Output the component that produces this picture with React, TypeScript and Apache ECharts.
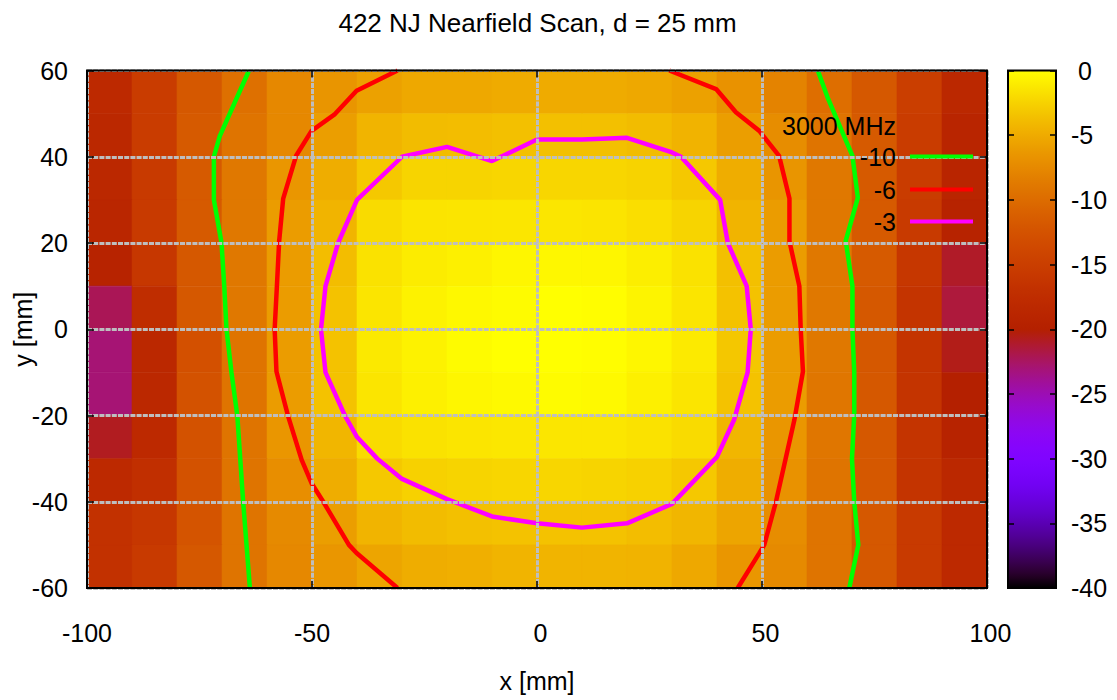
import React, { useEffect, useRef } from "react";
import * as echarts from "echarts";

const FONT = "'Liberation Sans', Arial, Helvetica, sans-serif";
const FS = 25;

const TITLE = "422 NJ Nearfield Scan, d = 25 mm";
const LEGEND_TITLE = "3000 MHz";
const X_NAME = "x [mm]";
const Y_NAME = "y [mm]";

// cell centres (mm)
const xCenters = [-95, -85, -75, -65, -55, -45, -35, -25, -15, -5, 5, 15, 25, 35, 45, 55, 65, 75, 85, 95];
const yCenters = [55, 45, 35, 25, 15, 5, -5, -15, -25, -35, -45, -55];

// level in dB, one row per yCenters entry, one column per xCenters entry
const levelRows = [
  [-18.1, -15.3, -11.9, -9.6, -7.6, -6.6, -5.7, -5.2, -5.2, -5.0, -5.0, -5.0, -5.2, -5.7, -6.8, -8.0, -9.8, -11.9, -15.0, -18.4],
  [-18.4, -15.3, -11.7, -9.3, -7.6, -5.9, -4.4, -3.9, -3.8, -3.6, -3.6, -3.6, -3.9, -4.5, -5.9, -7.2, -9.3, -11.7, -15.3, -19.0],
  [-18.4, -15.6, -11.7, -8.9, -6.5, -4.9, -3.1, -2.4, -2.4, -2.3, -2.3, -2.3, -2.5, -3.1, -4.9, -6.6, -8.9, -11.7, -15.3, -19.0],
  [-18.8, -15.6, -11.7, -8.9, -6.1, -4.4, -2.0, -1.5, -1.4, -1.35, -1.35, -1.45, -1.8, -2.4, -4.4, -6.1, -8.9, -11.7, -15.6, -19.4],
  [-19.4, -16.0, -11.9, -8.9, -6.1, -3.8, -1.6, -1.0, -0.8, -0.5, -0.4, -0.5, -0.9, -1.6, -3.6, -6.1, -8.9, -11.7, -16.0, -21.0],
  [-22.2, -17.5, -11.9, -8.9, -6.1, -3.5, -1.4, -0.7, -0.35, -0.2, 0, -0.1, -0.6, -1.4, -3.5, -6.1, -8.9, -11.9, -16.4, -21.5],
  [-23.0, -18.4, -12.8, -9.3, -6.1, -3.5, -1.2, -0.7, -0.2, 0, 0, -0.1, -0.5, -1.1, -3.2, -6.1, -8.9, -11.9, -16.4, -20.6],
  [-23.0, -18.4, -12.6, -9.3, -6.1, -3.5, -1.4, -0.8, -0.5, -0.3, -0.2, -0.3, -0.8, -1.4, -3.5, -6.1, -9.1, -11.9, -16.4, -20.0],
  [-20.8, -18.1, -12.6, -9.3, -6.5, -4.3, -2.0, -1.6, -1.4, -1.3, -1.35, -1.35, -1.6, -2.0, -4.3, -6.5, -9.1, -11.9, -16.4, -19.4],
  [-18.1, -17.1, -12.6, -9.3, -7.1, -4.9, -3.1, -2.6, -2.4, -2.3, -2.3, -2.4, -2.6, -3.1, -4.9, -6.8, -9.3, -11.9, -16.4, -18.4],
  [-16.8, -16.0, -12.3, -9.3, -7.4, -5.9, -4.4, -3.9, -3.6, -3.5, -3.5, -3.5, -3.8, -4.3, -5.4, -7.2, -9.3, -11.9, -15.6, -18.1],
  [-16.8, -15.6, -11.9, -9.3, -7.6, -6.5, -5.4, -4.9, -4.7, -4.4, -4.4, -4.4, -4.5, -5.2, -6.5, -7.4, -9.3, -11.9, -15.6, -18.1],
];

// contour lines [x mm, y mm]
const contour3 = [
  [0, 44], [-10, 39], [-20, 42.3], [-30, 40], [-40, 30], [-44.2, 20], [-47, 10], [-48, 0], [-47, -10],
  [-42.7, -20], [-40, -25], [-35.5, -30], [-30, -34.7], [-20, -39.4], [-10, -43.4], [0, -45], [10, -46],
  [20, -45], [30, -40.5], [40, -29.6], [43.8, -21], [46.8, -10], [47.5, 0], [46.6, 10], [42.4, 20],
  [40.7, 30], [32, 40], [30, 41], [20, 44.4], [10, 44], [0, 44],
];
const contour6Left = [
  [-31, 60], [-40.1, 55.3], [-44.9, 49.9], [-50.1, 46], [-53.5, 40.3], [-56.4, 30.3], [-57.3, 20.4],
  [-57.8, 10], [-58.3, 0], [-57.9, -9.8], [-55.3, -20.2], [-52.3, -30.3], [-50.1, -35.7], [-47.5, -40],
  [-41.8, -50], [-40.1, -51.9], [-31, -60],
];
const contour6Right = [
  [29.4, 60], [39.8, 55.7], [44.2, 50.3], [49.4, 46], [53.8, 40.2], [56.1, 30.3], [56.1, 20.4], [58.3, 10],
  [58.6, 0], [59.1, -9.8], [57.2, -21], [53.1, -40], [50.5, -50], [49.4, -51.9], [44.6, -60],
];
const contour10Left = [
  [-64, 60], [-70.5, 44.8], [-71.8, 40], [-71.8, 30], [-70.1, 20], [-69.5, 10], [-69, 0], [-67.9, -10],
  [-66.6, -20], [-65.3, -40], [-63.8, -60],
];
const contour10Right = [
  [62.4, 60], [64.7, 53.4], [70.1, 40.2], [71.3, 30.5], [68.6, 20.5], [70.1, 10], [70.1, 0], [70.5, -10],
  [70.5, -20], [70, -30], [70.5, -40], [71.4, -50], [69.4, -60],
];

const levelNames = ["-10", "-6", "-3"];
const levelColors = ["#00ff00", "#ff0000", "#ff00ff"];

// gnuplot default palette (rgbformulae 7,5,15)
function gnuplotColor(t: number): string {
  const r = Math.sqrt(t);
  const g = t * t * t;
  const b = Math.max(0, Math.sin(2 * Math.PI * t));
  const h = (v: number) => Math.round(Math.min(1, Math.max(0, v)) * 255).toString(16).padStart(2, "0");
  return "#" + h(r) + h(g) + h(b);
}
const palette: string[] = [];
for (let i = 0; i <= 40; i++) palette.push(gnuplotColor(i / 40));

const GRID = { left: 87, right: 130, top: 70.5, bottom: 112 };
const CB = { left: 1008, width: 48 };

const signSpace = (v: number) => (v >= 0 ? " " + v : String(v));

export default function App() {
  const ref = useRef<HTMLDivElement>(null);

  useEffect(() => {
    if (!ref.current) return;
    const chart = echarts.init(ref.current, undefined, { renderer: "svg" });

    const cells: number[][] = [];
    yCenters.forEach((y, r) => {
      xCenters.forEach((x, c) => {
        cells.push([x, y, levelRows[r][c]]);
      });
    });

    const textBase = { fontFamily: FONT, fontSize: FS, color: "#000" };
    const gridLine = { show: true, lineStyle: { color: "#bebebe", width: 3, type: [5, 1.2] as any } };
    const tick = { show: true, inside: true, length: 7, lineStyle: { color: "#000", width: 1.5 } };

    const lineSeries = (name: string, color: string, data: number[][]) => ({
      type: "line",
      name,
      xAxisIndex: 0,
      yAxisIndex: 0,
      data,
      symbol: "none",
      showSymbol: false,
      silent: true,
      clip: true,
      z: 2,
      color,
      lineStyle: { color, width: 4.5 },
    });

    const legendTops = [144, 177, 209];

    const option: any = {
      animation: false,
      backgroundColor: "#fff",
      textStyle: { fontFamily: FONT },
      grid: [
        {
          ...GRID, containLabel: false, outerBoundsMode: "none",
          show: true, borderColor: "#000", borderWidth: 2, backgroundColor: "transparent", z: 5,
        },
        {
          left: CB.left, width: CB.width, top: GRID.top, bottom: GRID.bottom, containLabel: false, outerBoundsMode: "none",
          show: true, borderColor: "#000", borderWidth: 2, backgroundColor: "transparent", z: 6,
        },
      ],
      xAxis: [
        {
          gridIndex: 0, type: "value", min: -100, max: 100, interval: 50, position: "bottom", z: 3,
          axisLine: { show: false, onZero: false },
          axisTick: tick,
          axisLabel: { ...textBase, margin: 32, formatter: signSpace },
          splitLine: gridLine,
          name: X_NAME, nameLocation: "middle", nameGap: 80, nameMoveOverlap: false, nameTextStyle: textBase,
        },
        {
          gridIndex: 0, type: "value", min: -100, max: 100, interval: 50, position: "top", z: 3,
          axisLine: { show: false, onZero: false }, axisTick: tick, axisLabel: { show: false }, splitLine: { show: false },
        },
        {
          gridIndex: 1, type: "value", min: 0, max: 1, position: "bottom",
          axisLine: { show: false, onZero: false }, axisTick: { show: false }, axisLabel: { show: false }, splitLine: { show: false },
        },
      ],
      yAxis: [
        {
          gridIndex: 0, type: "value", min: -60, max: 60, interval: 20, position: "left", z: 3,
          axisLine: { show: false, onZero: false },
          axisTick: tick,
          axisLabel: { ...textBase, margin: 19 },
          splitLine: gridLine,
          name: Y_NAME, nameLocation: "middle", nameGap: 52, nameMoveOverlap: false, nameTextStyle: textBase,
        },
        {
          gridIndex: 0, type: "value", min: -60, max: 60, interval: 20, position: "right", z: 3,
          axisLine: { show: false, onZero: false }, axisTick: tick, axisLabel: { show: false }, splitLine: { show: false },
        },
        {
          gridIndex: 1, type: "value", min: -40, max: 0, interval: 5, position: "left", z: 6,
          axisLine: { show: false, onZero: false }, axisTick: { ...tick, length: 6 }, axisLabel: { show: false }, splitLine: { show: false },
        },
        {
          gridIndex: 1, type: "value", min: -40, max: 0, interval: 5, position: "right", z: 6,
          axisLine: { show: false, onZero: false }, axisTick: { ...tick, length: 6 },
          axisLabel: { ...textBase, margin: 15, formatter: signSpace }, splitLine: { show: false },
        },
      ],
      visualMap: {
        type: "continuous",
        min: -40,
        max: 0,
        dimension: 2,
        seriesIndex: 0,
        inRange: { color: palette },
        orient: "vertical",
        left: CB.left,
        top: GRID.top,
        itemWidth: CB.width,
        itemHeight: 700 - GRID.top - GRID.bottom,
        calculable: false,
        hoverLink: false,
        padding: 0,
        z: 4,
      },
      legend: levelNames.map((n, i) => ({
        data: [n],
        orient: "vertical",
        right: 144,
        top: legendTops[i],
        align: "right",
        icon: "rect",
        itemWidth: 63,
        itemHeight: 4,
        padding: 0,
        selectedMode: false,
        textStyle: { ...textBase, padding: [6, 9, 0, 0] },
        z: 4,
      })),
      graphic: [
        {
          type: "text", x: 537.5, y: 23, z: 10,
          style: { text: TITLE, font: `26px ${FONT}`, fill: "#000", textAlign: "center", textVerticalAlign: "middle" },
        },
        {
          type: "text", x: 896, y: 126, z: 10,
          style: { text: LEGEND_TITLE, font: `${FS}px ${FONT}`, fill: "#000", textAlign: "right", textVerticalAlign: "middle" },
        },
      ],
      series: [
        {
          type: "custom",
          name: "field",
          xAxisIndex: 0,
          yAxisIndex: 0,
          silent: true,
          z: 1,
          data: cells,
          encode: { x: 0, y: 1 },
          renderItem: (params: any, api: any) => {
            const x = api.value(0);
            const y = api.value(1);
            const p0 = api.coord([x - 5, y + 5]);
            const p1 = api.coord([x + 5, y - 5]);
            const color = api.visual("color");
            return {
              type: "rect",
              shape: { x: p0[0], y: p0[1], width: p1[0] - p0[0], height: p1[1] - p0[1] },
              style: { fill: color, stroke: color, lineWidth: 0.6 },
            };
          },
        },
        lineSeries(levelNames[0], levelColors[0], contour10Left),
        lineSeries(levelNames[0], levelColors[0], contour10Right),
        lineSeries(levelNames[1], levelColors[1], contour6Left),
        lineSeries(levelNames[1], levelColors[1], contour6Right),
        lineSeries(levelNames[2], levelColors[2], contour3),
      ],
    };

    chart.setOption(option);
    return () => chart.dispose();
  }, []);

  return (
    <div
      ref={ref}
      style={{ position: "fixed", left: 0, top: 0, width: 1117, height: 700, background: "#fff" }}
    />
  );
}
